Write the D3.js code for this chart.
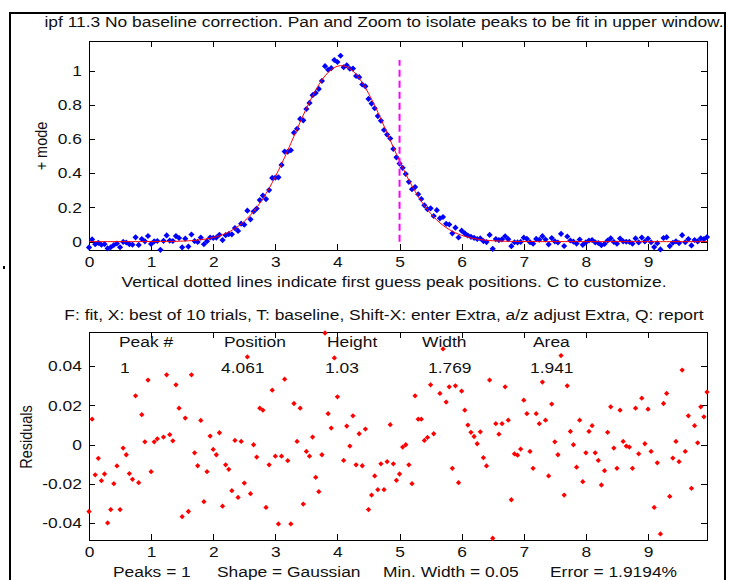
<!DOCTYPE html>
<html><head><meta charset="utf-8">
<script src="https://cdn.jsdelivr.net/npm/d3@7"></script>
<style>
body{margin:0;background:#fff}
svg{display:block}
text{font-family:Arial,"Liberation Sans",sans-serif;font-size:14.5px;fill:#111}
</style>
</head><body>
<svg id="chart" width="729" height="580"></svg>
<script>
// ---------------- data ----------------
const titleText = "ipf 11.3 No baseline correction. Pan and Zoom to isolate peaks to be fit in upper window.";
const topXLabel = "Vertical dotted lines indicate first guess peak positions. C to customize.";
const keyHelp = "F: fit, X: best of 10 trials, T: baseline, Shift-X: enter Extra, a/z adjust Extra, Q: report";
const topYLabel = "+ mode";
const bottomYLabel = "Residuals";
const xTicks = [0, 1, 2, 3, 4, 5, 6, 7, 8, 9];
const topYTicks = [0, 0.2, 0.4, 0.6, 0.8, 1];
const resYTicks = [-0.04, -0.02, 0, 0.02, 0.04];
const sampleStep = 0.05;     // x spacing of the measured points
const sampleCount = 200;     // x = 0 ... 9.95
const peakPosition = 4.061;
const peakHeight = 1.03;
const peakWidth = 1.769;     // FWHM
const firstGuessPositions = [5];
const tableHeaders = ["Peak #", "Position", "Height", "Width", "Area"];
const tableValues = ["1", "4.061", "1.03", "1.769", "1.941"];
const footerItems = ["Peaks = 1", "Shape = Gaussian", "Min. Width = 0.05", "Error = 1.9194%"];
// residuals (data - fit), one per sample
const residuals = [
 -0.034, 0.013, -0.0153, -0.0069, -0.0183, -0.0149, -0.0398, -0.033, -0.0198, -0.0108,
 -0.033, -0.0017, -0.0051, -0.0147, -0.0176, 0.0249, -0.0193, 0.0153, 0.0015, 0.0329,
 -0.0137, 0.0015, 0.0030, -0.0488, 0.0039, 0.0356, 0.0051, 0.002, 0.0305, 0.0186,
 -0.0366, 0.0136, -0.034, 0.0356, -0.0041, -0.0107, 0.0124, -0.029, -0.0137, 0.0044,
 -0.0024, -0.0051, 0.0061, -0.0313, -0.0102, -0.0125, -0.0234, 0.0022, -0.0268, 0.0017,
 -0.0195, 0.0447, -0.0249, 0.0, -0.0063, 0.0186, 0.0176, -0.0319, -0.0102, 0.0278,
 -0.0058, -0.0403, -0.0058, 0.0334, -0.0081, -0.0403, 0.021, 0.0017, 0.0186, -0.0302,
 -0.0034, -0.0058, 0.0039, -0.0166, -0.0239, -0.0051, 0.0569, 0.0158, 0.0085, 0.0442,
 0.0244, 0.058, -0.008, 0.0095, -0.0007, 0.0147, -0.0102, 0.0056, -0.0107, 0.008,
 -0.033, -0.0256, -0.0159, -0.0229, -0.0097, -0.0229, -0.0086, 0.0102, -0.0097, -0.0181,
 -0.0149, -0.0012, 0.0, -0.0102, -0.0198, 0.0249, 0.013, 0.013, 0.0022, 0.0037,
 0.0305, 0.0056, 0.0576, 0.0261, 0.0488, 0.0217, 0.0295, -0.012, 0.030, -0.0193,
 0.0273, 0.0176, 0.01, 0.0063, 0.0042, 0.0005, 0.0066, -0.0066, -0.0108, 0.0329,
 -0.0476, 0.0107, 0.0054, 0.0107, 0.0295, 0.0125, -0.028, -0.0046, -0.0053, -0.0022,
 0.0227, 0.0158, -0.0034, -0.012, 0.0158, 0.0107, 0.0319, 0.0125, -0.0159, 0.0207,
 0.0015, -0.0051, 0.0454, -0.0256, 0.030, 0.0068, 0.0, -0.0114, 0.0125, -0.0188,
 -0.0041, 0.0068, 0.0097, -0.0041, -0.008, -0.0205, -0.0132, 0.0063, 0.0193, -0.0017,
 -0.012, 0.0176, 0.0017, -0.0007, -0.0012, -0.012, 0.0186, -0.0046, 0.0237, 0.0005,
 0.0181, -0.0034, -0.0319, -0.0092, -0.0454, 0.021, 0.0261, -0.0263, -0.0068, 0.0017,
 -0.0086, 0.038, -0.0034, 0.0147, -0.0222, 0.0097, 0.001, 0.0193, 0.0142, 0.0268
];

// ---------------- model ----------------
const xs = d3.range(sampleCount).map(i => +(i * sampleStep).toFixed(2));
const gaussFit = x => peakHeight * Math.exp(-Math.pow((x - peakPosition) / (0.6005612 * peakWidth), 2));
const fitPts = xs.map(x => ({x, y: gaussFit(x)}));
const dataPts = xs.map((x, i) => ({x, y: gaussFit(x) + residuals[i]}));
const resPts = xs.map((x, i) => ({x, y: residuals[i]}));

// ---------------- layout ----------------
const svg = d3.select("#chart");
const L = 89, R = 707, T1 = 41, B1 = 250, T2 = 332, B2 = 540;
const SX = 1.2; // horizontal stretch of the original screen text

const x = d3.scaleLinear().domain([0, xs[xs.length - 1]]).range([L, R]);
const yTop = d3.scaleLinear().domain([-0.049, 1.174]).range([B1, T1]);
const yRes = d3.scaleLinear().domain([-0.0485, 0.0574]).range([B2, T2]);

function stext(x0, y0, s, anchor) {
  return svg.append("text")
    .attr("transform", `translate(${x0},${y0}) scale(${SX},1)`)
    .attr("text-anchor", anchor || "start")
    .text(s);
}

// figure frame
svg.append("path").attr("d", "M10,600 V13 H725 V600")
  .attr("fill", "none").attr("stroke", "#000").attr("stroke-width", 2);
svg.append("rect").attr("x", 3).attr("y", 266).attr("width", 2).attr("height", 3).attr("fill", "#000");

function drawAxes(yScale, top, bottom, yTicks, yFmt) {
  const gB = svg.append("g").attr("transform", `translate(0,${bottom})`)
    .call(d3.axisBottom(x).tickValues(xTicks).tickSize(-6).tickSizeOuter(0).tickPadding(7).tickFormat(d => String(d)));
  const gT = svg.append("g").attr("transform", `translate(0,${top})`)
    .call(d3.axisTop(x).tickValues(xTicks).tickSize(-6).tickSizeOuter(0).tickFormat(""));
  const gL = svg.append("g").attr("transform", `translate(${L},0)`)
    .call(d3.axisLeft(yScale).tickValues(yTicks).tickSize(-6).tickSizeOuter(0).tickPadding(6).tickFormat(yFmt));
  const gR = svg.append("g").attr("transform", `translate(${R},0)`)
    .call(d3.axisRight(yScale).tickValues(yTicks).tickSize(-6).tickSizeOuter(0).tickFormat(""));
  [gB, gT, gL, gR].forEach(g => {
    g.attr("font-size", null).attr("font-family", null);
    g.select(".domain").remove();
    g.selectAll("line").attr("stroke", "#000").attr("shape-rendering", "crispEdges");
    g.selectAll("text").attr("transform", `scale(${SX},1)`);
  });
  svg.append("rect").attr("x", L).attr("y", top).attr("width", R - L).attr("height", bottom - top)
    .attr("fill", "none").attr("stroke", "#000").attr("shape-rendering", "crispEdges");
}

const square = d3.symbol().type(d3.symbolSquare);

// ---------- upper panel ----------
stext(384, 27, titleText, "middle");
drawAxes(yTop, T1, B1, topYTicks, d => String(d));

svg.append("g").selectAll("path").data(dataPts.filter(d => d.y >= yTop.domain()[0] && d.y <= yTop.domain()[1]))
  .join("path")
  .attr("d", square.size(19))
  .attr("transform", d => `translate(${x(d.x)},${yTop(d.y)}) rotate(45)`)
  .attr("fill", "#0000ff");

svg.append("path").datum(fitPts)
  .attr("d", d3.line().x(d => x(d.x)).y(d => yTop(d.y)))
  .attr("fill", "none").attr("stroke", "#ff0000").attr("stroke-width", 1);

svg.append("g").selectAll("line").data(firstGuessPositions).join("line")
  .attr("x1", d => x(d)).attr("x2", d => x(d))
  .attr("y1", yTop(0)).attr("y2", yTop(1.063))
  .attr("stroke", "#ff00ff").attr("stroke-width", 2).attr("stroke-dasharray", "7,4");

svg.append("text").attr("transform", `translate(47,146) rotate(-90) scale(1,${SX})`)
  .attr("text-anchor", "middle").text(topYLabel);
stext(394, 287, topXLabel, "middle");

// ---------- lower panel ----------
stext(384, 320, keyHelp, "middle");
drawAxes(yRes, T2, B2, resYTicks, d => String(d));

svg.append("g").selectAll("path").data(resPts.filter(d => d.y >= yRes.domain()[0] && d.y <= yRes.domain()[1]))
  .join("path")
  .attr("d", square.size(14))
  .attr("transform", d => `translate(${x(d.x)},${yRes(d.y)}) rotate(45)`)
  .attr("fill", "#ff0000");

const headerX = [119, 224, 327, 422, 533];
const valueX = [120, 221, 325, 428, 530];
tableHeaders.forEach((h, i) => stext(headerX[i], 347, h, "start"));
tableValues.forEach((v, i) => stext(valueX[i], 373, v, "start"));

svg.append("text").attr("transform", `translate(32,437) rotate(-90) scale(1,${SX})`)
  .attr("text-anchor", "middle").text(bottomYLabel);

const footerX = [113, 217, 383, 550];
footerItems.forEach((f, i) => stext(footerX[i], 577, f, "start"));
</script>
</body></html>
